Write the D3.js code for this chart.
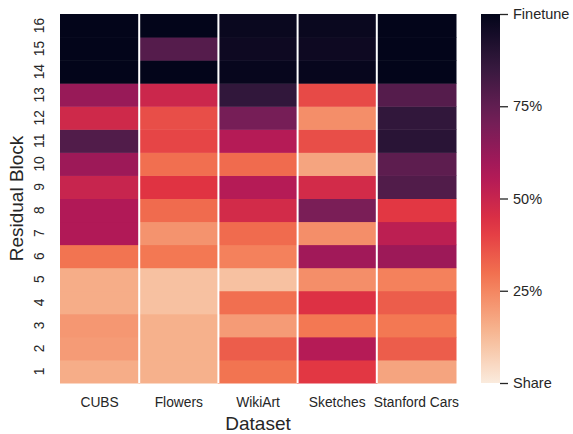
<!DOCTYPE html>
<html><head><meta charset="utf-8">
<script src="https://cdn.jsdelivr.net/npm/d3@7"></script>
<style>body{margin:0;background:#fff}svg{display:block}text{font-family:"Liberation Sans",Arial,sans-serif;fill:#262626}</style>
</head><body><svg id="c" width="573" height="434"></svg>
<script>
const datasets = ["CUBS","Flowers","WikiArt","Sketches","Stanford Cars"];
const blocks = [1,2,3,4,5,6,7,8,9,10,11,12,13,14,15,16];
// fraction finetuned per block (block 1..16)
const cubs     = [0.16,0.20,0.21,0.16,0.16,0.29,0.56,0.56,0.50,0.61,0.79,0.48,0.62,1.00,1.00,1.00];
const flowers  = [0.15,0.15,0.15,0.11,0.11,0.28,0.22,0.31,0.43,0.30,0.39,0.37,0.49,1.00,0.78,1.00];
const wikiart  = [0.29,0.34,0.20,0.30,0.11,0.26,0.31,0.47,0.55,0.31,0.55,0.70,0.87,0.99,0.97,0.98];
const sketches = [0.42,0.55,0.28,0.44,0.23,0.60,0.23,0.69,0.47,0.18,0.37,0.23,0.38,0.99,0.97,0.98];
const cars     = [0.18,0.34,0.28,0.34,0.26,0.61,0.53,0.42,0.79,0.76,0.89,0.87,0.78,1.00,1.00,1.00];
const series = [cubs, flowers, wikiart, sketches, cars];
const cbTicks = [0, 0.25, 0.5, 0.75, 1];
const cbLabels = ["Share","25%","50%","75%","Finetune"];

const rocket = ["#03051a","#35193e","#701f57","#ad1759","#e13342","#f37651","#f6b48f","#faebdd"];
const interp = d3.piecewise(d3.interpolateRgb, rocket.slice().reverse());
const color = v => interp(v);

const svg = d3.select("#c");
const L=60, R=456, T=14, B=383;
const x = d3.scaleBand().domain(datasets).range([L,R]);
const y = d3.scaleBand().domain(blocks).range([B,T]);

const cells = [];
series.forEach((s,i)=>s.forEach((v,j)=>cells.push({d:datasets[i],b:blocks[j],v})));
svg.append("g").selectAll("rect").data(cells).join("rect")
  .attr("x",d=>x(d.d)).attr("y",d=>y(d.b)).attr("width",x.bandwidth()+0.5).attr("height",y.bandwidth()+0.5)
  .attr("fill",d=>color(d.v));
svg.append("g").selectAll("line").data(datasets.slice(1)).join("line")
  .attr("x1",d=>x(d)).attr("x2",d=>x(d)).attr("y1",T).attr("y2",B)
  .attr("stroke","#fff").attr("stroke-width",2);

// x tick labels
svg.append("g").selectAll("text").data(datasets).join("text")
  .attr("x",d=>x(d)+x.bandwidth()/2).attr("y",407).attr("text-anchor","middle")
  .attr("font-size",13.8).text(d=>d);
svg.append("text").attr("x",258).attr("y",430).attr("text-anchor","middle").attr("font-size",19).text("Dataset");
// y tick labels
svg.append("g").selectAll("text").data(blocks).join("text")
  .attr("transform",d=>`translate(44,${y(d)+y.bandwidth()/2}) rotate(-90)`)
  .attr("text-anchor","middle").attr("font-size",13.8).text(d=>d);
svg.append("text").attr("transform",`translate(23,${(T+B)/2}) rotate(-90)`).attr("text-anchor","middle").attr("font-size",19).text("Residual Block");

// colorbar
const cbX=481, cbW=19;
const cy = d3.scaleLinear().domain([0,1]).range([B,T]);
const grad = svg.append("defs").append("linearGradient").attr("id","g").attr("x1",0).attr("x2",0).attr("y1",1).attr("y2",0);
d3.range(0,1.0001,0.05).forEach(t=>grad.append("stop").attr("offset",t).attr("stop-color",color(t)));
svg.append("rect").attr("x",cbX).attr("y",T).attr("width",cbW).attr("height",B-T).attr("fill","url(#g)");
const ax = svg.append("g").attr("transform",`translate(${cbX+cbW},0)`)
  .call(d3.axisRight(cy).tickValues(cbTicks).tickFormat((d,i)=>cbLabels[i]).tickSize(8).tickPadding(5));
ax.select(".domain").remove();
ax.selectAll("line").attr("stroke","#262626").attr("stroke-width",1.3);
ax.selectAll("text").attr("font-size",14.5).attr("fill","#262626").style("font-family","Liberation Sans, Arial, sans-serif");
</script></body></html>
